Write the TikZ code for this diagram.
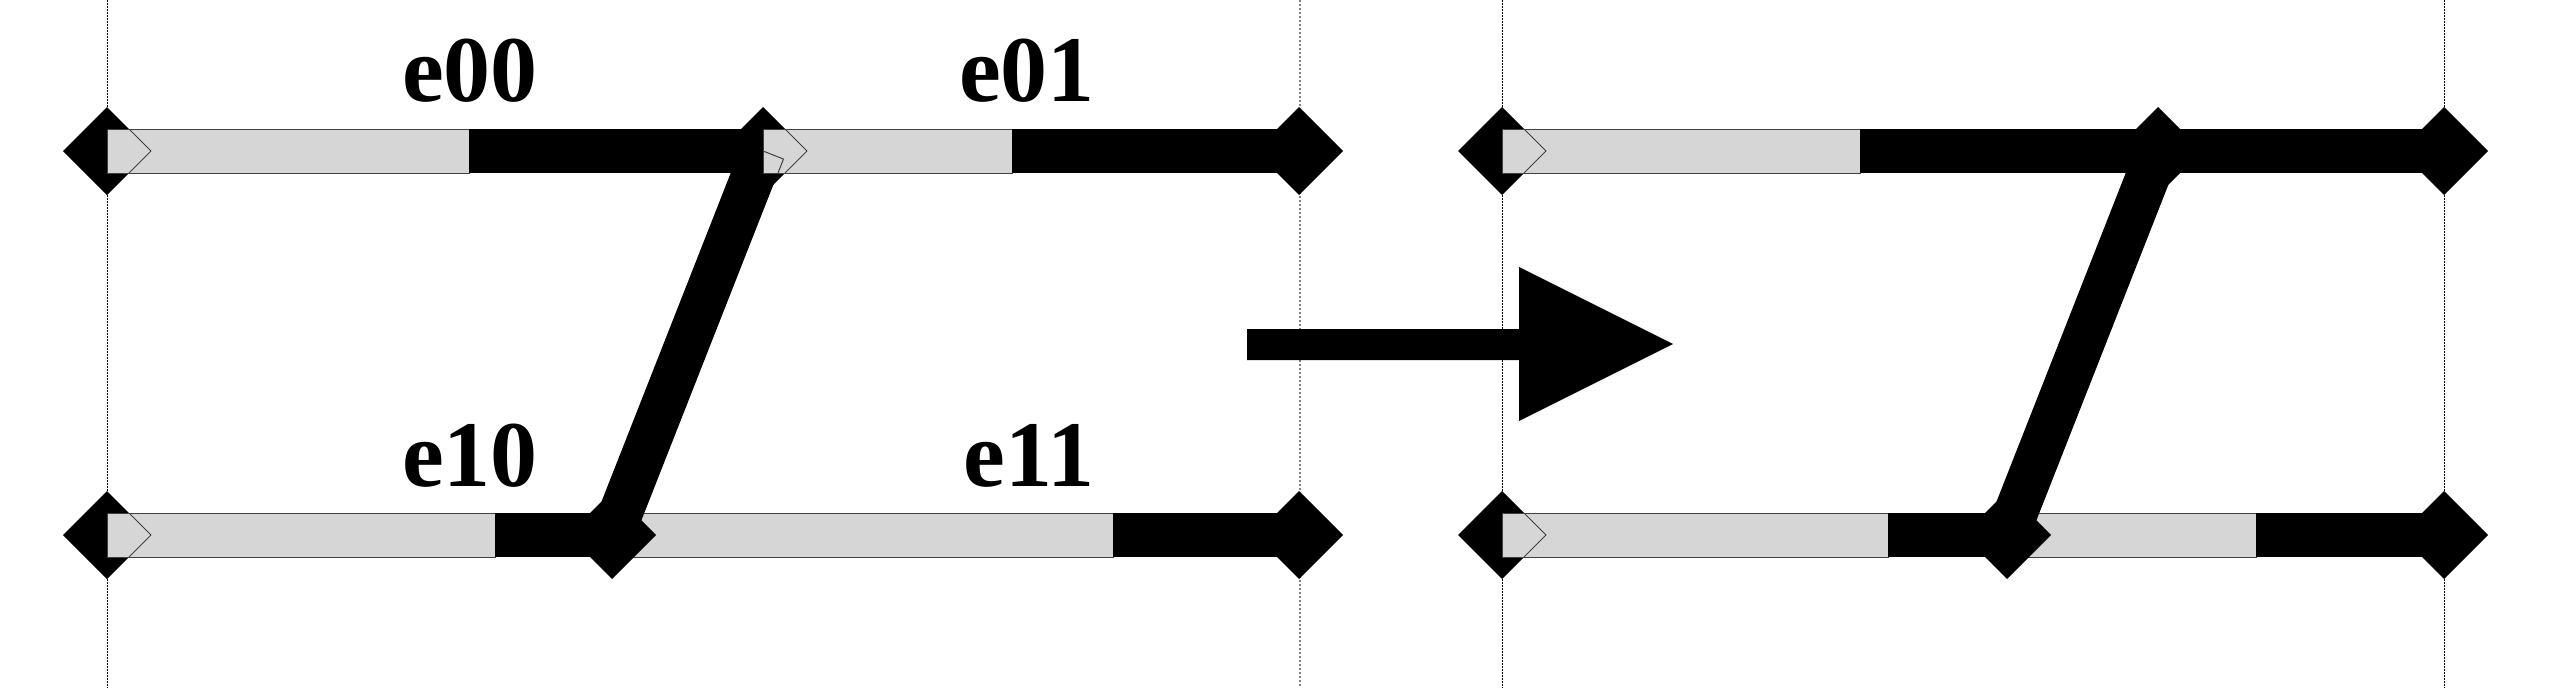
\documentclass[tikz,border=0pt]{standalone}
\usepackage{fontspec}
\setmainfont{Liberation Serif}
\usetikzlibrary{calc}
\definecolor{barfill}{RGB}{214,214,214}
\newcommand\dia[1]{\fill[black] (#1) +(-44,0) -- +(0,-44) -- +(44,0) -- +(0,44) -- cycle;}
\newcommand\chev[1]{\draw[chevline] (#1) ++(22,-22) -- ++(22,22) -- ++(-22,22);}
\newcommand\seg[3]{\path[#3] ($(#1)+(0,-22)$) rectangle ($(#2)+(0,22)$);}
\newcommand\slant[3]{\path[#3] ($(#1)!22pt!90:(#2)$) -- ($(#1)!22pt!-90:(#2)$) -- ($(#2)!22pt!90:(#1)$) -- ($(#2)!22pt!-90:(#1)$) -- cycle;}
\begin{document}
\begin{tikzpicture}[x=1pt,y=-1pt,
  graybar/.style={fill=barfill,draw=black!75,line width=1pt},
  blackbar/.style={fill=black},
  chevline/.style={draw=black!75,line width=1pt},
  slantfill/.style={fill=black},
  slantline/.style={draw=black!75,line width=1pt},
  blackdots/.style={draw=black,line width=1pt,dash pattern=on 1.5pt off 1.5pt},
  graydots/.style={draw=black!50,line width=2pt,dash pattern=on 2pt off 2pt},
  lab/.style={font=\fontsize{94}{94}\selectfont\bfseries,inner sep=0pt,anchor=base}]
\useasboundingbox (0,0) rectangle (2552,688);
% guide lines
\draw[blackdots] (107.5,0) -- (107.5,688);
\draw[graydots] (1300,0) -- (1300,688);
\draw[blackdots] (1502.5,0) -- (1502.5,688);
\draw[blackdots] (2444.5,0) -- (2444.5,688);
% ---------- left panel coordinates
\coordinate (A0) at (107,151);
\coordinate (A1) at (763,151);
\coordinate (A2) at (1299,151);
\coordinate (B0) at (107,535);
\coordinate (B1) at (612,535);
\coordinate (B2) at (1299,535);
\coordinate (s00) at (469,151);
\coordinate (s01) at (1012,151);
\coordinate (s10) at (495,535);
\coordinate (s11) at (1113,535);
% bottom row
\dia{B0}
\dia{B2}
\seg{B0}{s10}{graybar}
\seg{s10}{B1}{blackbar}
\seg{B1}{s11}{graybar}
\seg{s11}{B2}{blackbar}
\chev{B0}
% slant
\slant{A1}{B1}{slantfill}
\dia{B1}
\dia{A1}
% top row
\dia{A0}
\dia{A2}
\seg{A0}{s00}{graybar}
\seg{s00}{A1}{blackbar}
\seg{A1}{s01}{graybar}
\seg{s01}{A2}{blackbar}
\chev{A0}
\chev{A1}
\begin{scope}
  \clip ($(A1)+(0,-22)$) rectangle ($(s01)+(0,22)$);
  \slant{A1}{B1}{slantline}
\end{scope}
% labels
\node[lab] (l00) at (470,101) {e00};
\node[lab] (l01) at (1027,101) {e01};
\node[lab] (l10) at (470,486) {e10};
\node[lab] (l11) at (1029,486) {e11};
% ---------- arrow
\fill[black] (1247,329) -- (1519,329) -- (1519,267) -- (1673,344) -- (1519,421) -- (1519,360) -- (1247,360) -- cycle;
% ---------- right panel coordinates
\coordinate (C0) at (1502,151);
\coordinate (C1) at (2158,151);
\coordinate (C2) at (2444,151);
\coordinate (D0) at (1502,535);
\coordinate (D1) at (2007,535);
\coordinate (D2) at (2444,535);
\coordinate (t0) at (1860,151);
\coordinate (t10) at (1888,535);
\coordinate (t11) at (2256,535);
% bottom row
\dia{D0}
\dia{D2}
\seg{D0}{t10}{graybar}
\seg{t10}{D1}{blackbar}
\seg{D1}{t11}{graybar}
\seg{t11}{D2}{blackbar}
\chev{D0}
% slant
\slant{C1}{D1}{slantfill}
\dia{D1}
\dia{C1}
% top row
\dia{C0}
\dia{C2}
\seg{C0}{t0}{graybar}
\seg{t0}{C2}{blackbar}
\chev{C0}
\end{tikzpicture}
\end{document}
